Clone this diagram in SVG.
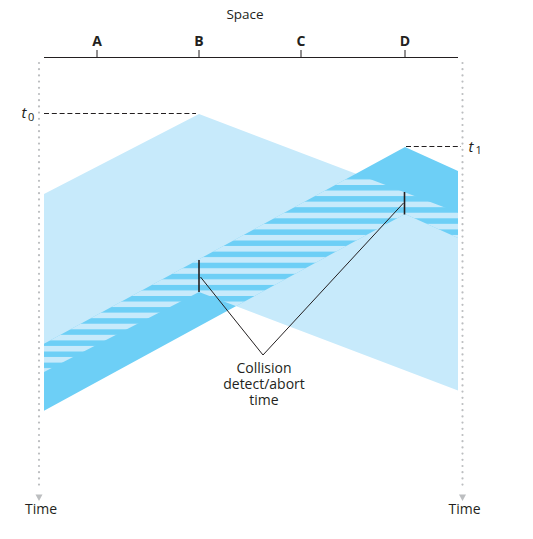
<svg xmlns="http://www.w3.org/2000/svg" width="533" height="539" viewBox="0 0 533 539">
<style>
text{font-family:"Open Sans","Liberation Sans",sans-serif;fill:#231f20}
.lbl{font-size:14px;text-anchor:middle}
.node{font-size:14px;font-weight:bold;text-anchor:middle}
.dot{stroke:#bcbec0;stroke-width:2.2;stroke-linecap:round;stroke-dasharray:0 6.2;fill:none}
.dash{stroke:#231f20;stroke-width:1;stroke-dasharray:5 2.8;fill:none}
.ink{stroke:#231f20;fill:none}
.light{fill:#c7eafb}
.dark{fill:#6dcff6}
</style>
<defs>
<pattern id="stripes" patternUnits="userSpaceOnUse" x="0" y="185" width="533" height="11.1">
<rect x="0" y="5.5" width="533" height="5.6" fill="#c7eafb"/>
</pattern>
<clipPath id="clipB">
<polygon points="44,194 199,114 458,212.5 458,390.5 199,292 44,372"/>
</clipPath>
</defs>

<g id="signals">
<polygon id="signal-B" class="light" points="44,194 199,114 458,212.5 458,390.5 199,292 44,372"/>
<polygon id="signal-D" class="dark" points="44,343.7 405,147 458,171 458,238 405,214 44,410.7"/>
<g id="collision-overlap" clip-path="url(#clipB)">
<polygon fill="url(#stripes)" points="44,343.7 405,147 458,171 458,238 405,214 44,410.7"/>
</g>
</g>

<g id="space-axis">
<line class="ink" x1="44" y1="57.5" x2="458" y2="57.5" stroke-width="1.2"/>
<line class="ink" x1="97" y1="50" x2="97" y2="57.5"/>
<line class="ink" x1="199" y1="50" x2="199" y2="57.5"/>
<line class="ink" x1="301" y1="50" x2="301" y2="57.5"/>
<line class="ink" x1="405" y1="50" x2="405" y2="57.5"/>
<text class="lbl" x="245" y="18.5" style="font-size:13.5px">Space</text>
</g>

<g id="node-A"><text class="node" x="97" y="45.5">A</text></g>
<g id="node-B"><text class="node" x="199" y="45.5">B</text></g>
<g id="node-C"><text class="node" x="301" y="45.5">C</text></g>
<g id="node-D"><text class="node" x="405" y="45.5">D</text></g>

<g id="time-axes">
<line class="dot" x1="39" y1="63" x2="39" y2="490"/>
<polygon points="35.5,494.5 42.5,494.5 39,501" fill="#bcbec0"/>
<text class="lbl" x="41" y="513.5">Time</text>
<line class="dot" x1="462.5" y1="63" x2="462.5" y2="490"/>
<polygon points="459,494.5 466,494.5 462.5,501" fill="#bcbec0"/>
<text class="lbl" x="464.5" y="514">Time</text>
</g>

<g id="t0">
<line class="dash" x1="44" y1="113.5" x2="196" y2="113.5"/>
<text x="21.5" y="117.5" style="font-size:15px;font-style:italic">t</text>
<text x="28" y="120.5" style="font-size:11px">0</text>
</g>
<g id="t1">
<line class="dash" x1="406" y1="146.5" x2="461" y2="146.5"/>
<text x="468.5" y="151.5" style="font-size:15px;font-style:italic">t</text>
<text x="475.5" y="154" style="font-size:11px">1</text>
</g>

<g id="detect-marks">
<line class="ink" x1="199" y1="260" x2="199" y2="292" stroke-width="1.6"/>
<line class="ink" x1="404.5" y1="192" x2="404.5" y2="214.5" stroke-width="1.6"/>
</g>

<g id="connectors">
<polyline class="ink" stroke-width="1" points="200.5,277 263,355 403.5,203"/>
</g>

<g id="collision-label">
<text class="lbl" x="264" y="372.5">Collision</text>
<text class="lbl" x="264" y="388.5">detect/abort</text>
<text class="lbl" x="264" y="404.5">time</text>
</g>
</svg>
